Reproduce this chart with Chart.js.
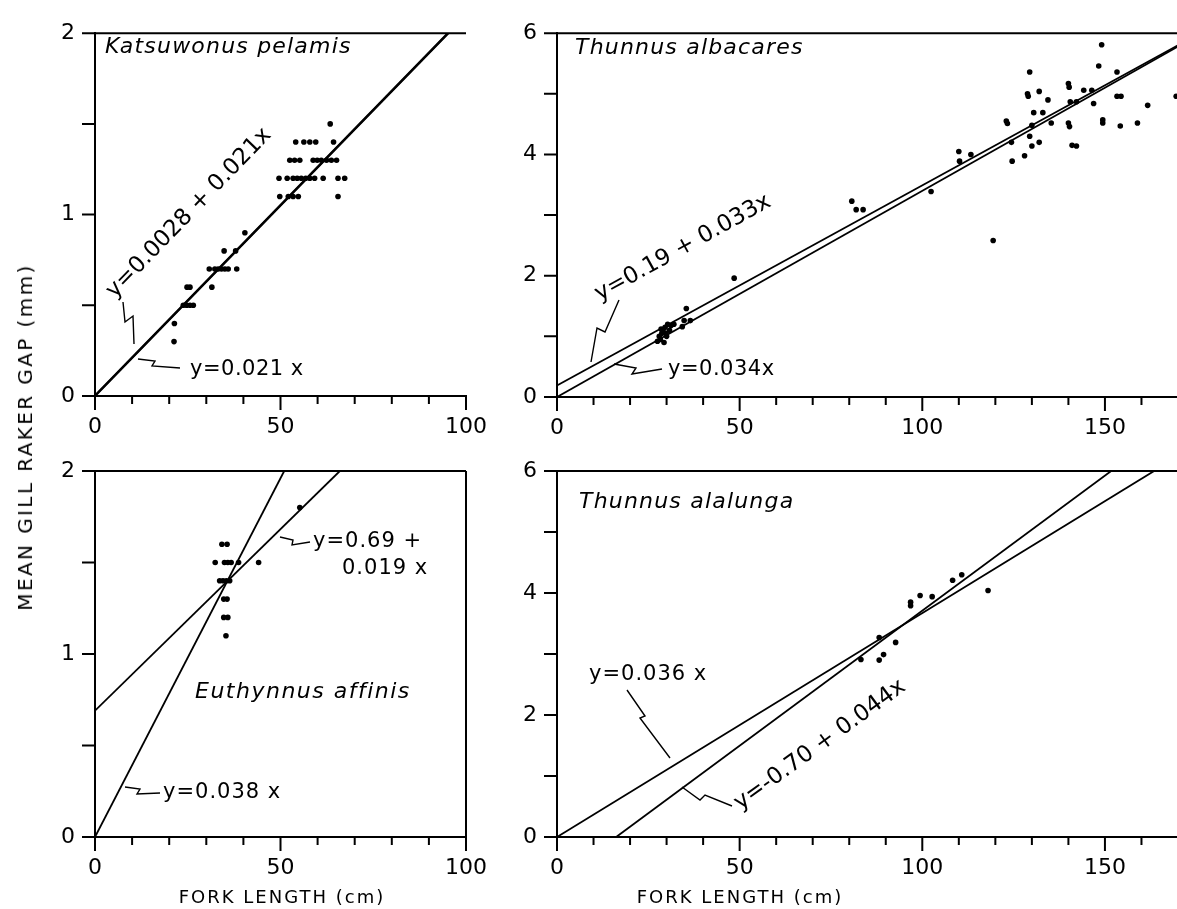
<!DOCTYPE html>
<html>
<head>
<meta charset="utf-8">
<script src="https://cdn.jsdelivr.net/npm/chart.js@4"></script>
<style>
  html, body { margin: 0; padding: 0; background: #fff; overflow: hidden; }
  #page { position: relative; width: 1177px; height: 909px; overflow: hidden; }
  canvas { position: absolute; left: 0; top: 0; }
  .titulo { position: absolute; font-family: "DejaVu Sans", sans-serif; color: #000; white-space: nowrap; }
</style>
</head>
<body>
<div id="page">
  <canvas id="kp" width="1200" height="909"></canvas>
  <canvas id="yf" width="1200" height="909"></canvas>
  <canvas id="ea" width="1200" height="909"></canvas>
  <canvas id="ta" width="1200" height="909"></canvas>
  <div class="titulo" style="left:25px; top:437px; font-size:20px; letter-spacing:2.4px; transform:translate(-50%,-50%) rotate(-90deg);">MEAN GILL RAKER GAP (mm)</div>
  <div class="titulo" style="left:282px; top:896px; font-size:18px; letter-spacing:2px; transform:translate(-50%,-50%);">FORK LENGTH (cm)</div>
  <div class="titulo" style="left:740px; top:896px; font-size:18px; letter-spacing:2px; transform:translate(-50%,-50%);">FORK LENGTH (cm)</div>
</div>
<script>
// Katsuwonus pelamis (top left)
const kpLen = [21.3, 21.4, 23.8, 24.7, 25.6, 26.5, 24.8, 25.6, 31.5,
  30.8, 32.3, 33.2, 34.1, 35.0, 35.9, 38.2, 34.8, 37.9, 40.4,
  49.8, 52.1, 53.4, 54.8, 65.5,
  49.6, 51.8, 53.4, 54.5, 55.6, 56.8, 57.9, 59.2, 61.5, 65.5, 67.3,
  52.5, 53.8, 55.2, 58.8, 59.9, 61.0, 62.4, 63.7, 65.1,
  54.1, 56.3, 57.9, 59.5, 64.3, 63.4];
const kpGap = [0.3, 0.4, 0.5, 0.5, 0.5, 0.5, 0.6, 0.6, 0.6,
  0.7, 0.7, 0.7, 0.7, 0.7, 0.7, 0.7, 0.8, 0.8, 0.9,
  1.1, 1.1, 1.1, 1.1, 1.1,
  1.2, 1.2, 1.2, 1.2, 1.2, 1.2, 1.2, 1.2, 1.2, 1.2, 1.2,
  1.3, 1.3, 1.3, 1.3, 1.3, 1.3, 1.3, 1.3, 1.3,
  1.4, 1.4, 1.4, 1.4, 1.4, 1.5];
const kpFitALen = [0, 100];
const kpFitAGap = [0.0028, 2.1028];
const kpFitBLen = [0, 100];
const kpFitBGap = [0, 2.1];

// Thunnus albacares (top right)
const yfLen = [27.5, 28, 28.3, 28.7, 29, 29.3, 29.6, 30, 30.3, 30.8, 31.2, 32, 28.5, 29.8,
  34.3, 34.8, 35.4, 36.5, 48.5, 80.7, 81.9, 83.8, 102.4, 110, 110.2, 113.3, 119.4,
  123, 123.3, 124.4, 124.6,
  128, 129.4, 128.8, 129, 132, 134.4, 130.5, 133, 130, 129.4, 132, 130, 135.3,
  140, 140.2, 140.5, 142.2, 140, 140.3, 141, 142.2, 144.2, 146.4, 146.9,
  148.3, 149.1, 149.4, 149.4, 153.3, 153.3, 154.4, 154.2, 158.9, 161.7, 169.5];
const yfGap = [0.92, 1.0, 0.95, 1.05, 1.1, 0.9, 1.15, 1.0, 1.2, 1.1, 1.18, 1.2, 1.12, 1.05,
  1.16, 1.26, 1.46, 1.26, 1.96, 3.23, 3.09, 3.09, 3.39, 4.05, 3.89, 4.0, 2.58,
  4.55, 4.51, 4.2, 3.89,
  3.98, 5.36, 5.0, 4.96, 5.04, 4.9, 4.69, 4.69, 4.48, 4.3, 4.2, 4.14, 4.52,
  5.17, 5.11, 4.87, 4.87, 4.52, 4.46, 4.15, 4.14, 5.06, 5.06, 4.84,
  5.46, 5.81, 4.57, 4.52, 5.36, 4.96, 4.96, 4.47, 4.52, 4.81, 4.96];
const yfFitALen = [0, 170];
const yfFitAGap = [0.19, 5.80];
const yfFitBLen = [0, 170];
const yfFitBGap = [0, 5.78];

// Euthynnus affinis (bottom left)
const eaLen = [34.2, 35.6, 32.4, 34.9, 35.8, 36.7, 38.7, 44.1, 33.6, 34.5, 35.4, 36.3,
  34.7, 35.6, 34.7, 35.8, 35.3, 55.2];
const eaGap = [1.6, 1.6, 1.5, 1.5, 1.5, 1.5, 1.5, 1.5, 1.4, 1.4, 1.4, 1.4,
  1.3, 1.3, 1.2, 1.2, 1.1, 1.8];
const eaFitALen = [0, 66];
const eaFitAGap = [0.69, 2.0];
const eaFitBLen = [0, 51];
const eaFitBGap = [0, 2.0];

// Thunnus alalunga (bottom right)
const taLen = [110.8, 108.3, 99.4, 102.7, 96.8, 96.8, 118, 88.2, 92.7, 89.4, 88.2, 83.2];
const taGap = [4.30, 4.21, 3.96, 3.94, 3.85, 3.79, 4.04, 3.27, 3.19, 2.99, 2.9, 2.91];
const taFitALen = [0, 170];
const taFitAGap = [0, 6.24];
const taFitBLen = [16.2, 170];
const taFitBGap = [0, 6.81];

const fonte = '"DejaVu Sans", sans-serif';

function pares(xs, ys) {
  return xs.map((x, i) => ({ x: x, y: ys[i] }));
}

function decoracao(textos, guias, bordaDireita) {
  return {
    id: "decoracao",
    afterDatasetsDraw(chart) {
      const ctx = chart.ctx;
      const a = chart.chartArea;
      const sx = chart.scales.x;
      const sy = chart.scales.y;
      ctx.save();
      ctx.strokeStyle = "#000";
      ctx.fillStyle = "#000";

      // moldura
      ctx.lineWidth = 2;
      ctx.beginPath();
      ctx.moveTo(a.left, a.top);
      ctx.lineTo(a.right, a.top);
      if (bordaDireita) {
        ctx.moveTo(a.right, a.top);
        ctx.lineTo(a.right, a.bottom);
      }
      ctx.stroke();

      // marcas dos eixos
      ctx.beginPath();
      sx.ticks.forEach(t => {
        const px = sx.getPixelForValue(t.value);
        const len = t.value % 50 === 0 ? 14 : 8;
        ctx.moveTo(px, a.bottom);
        ctx.lineTo(px, a.bottom + len);
      });
      sy.ticks.forEach(t => {
        const py = sy.getPixelForValue(t.value);
        ctx.moveTo(a.left - 13, py);
        ctx.lineTo(a.left, py);
      });
      ctx.stroke();

      // linhas de chamada
      ctx.lineWidth = 1.4;
      guias.forEach(g => {
        ctx.beginPath();
        g.forEach((p, i) => i === 0 ? ctx.moveTo(p[0], p[1]) : ctx.lineTo(p[0], p[1]));
        ctx.stroke();
      });

      // textos
      textos.forEach(t => {
        ctx.save();
        ctx.font = (t.italic ? "italic " : "") + t.size + "px " + fonte;
        ctx.letterSpacing = (t.spacing || 0) + "px";
        ctx.textAlign = t.align || "left";
        ctx.textBaseline = "middle";
        ctx.translate(t.x, t.y);
        ctx.rotate((t.angle || 0) * Math.PI / 180);
        ctx.fillText(t.text, 0, 0);
        ctx.restore();
      });
      ctx.restore();
    }
  };
}

function criarPainel(id, cfg) {
  const ctx = document.getElementById(id).getContext("2d");
  const linha = (xs, ys, w) => ({
    data: pares(xs, ys),
    showLine: true,
    borderColor: "#000",
    borderWidth: w,
    pointRadius: 0
  });

  new Chart(ctx, {
    type: "scatter",
    data: {
      datasets: [
        {
          data: pares(cfg.len, cfg.gap),
          backgroundColor: "#000",
          borderWidth: 0,
          pointRadius: 2.8
        },
        linha(cfg.fitA[0], cfg.fitA[1], cfg.lineWidth),
        linha(cfg.fitB[0], cfg.fitB[1], cfg.lineWidth)
      ]
    },
    options: {
      responsive: false,
      animation: false,
      events: [],
      layout: { padding: cfg.padding },
      plugins: {
        legend: { display: false },
        tooltip: { enabled: false }
      },
      scales: {
        x: {
          type: "linear",
          min: 0,
          max: cfg.xMax,
          afterFit: s => { s.height = 40; },
          grid: { display: false, drawTicks: false, tickLength: 0 },
          border: { display: true, color: "#000", width: 2 },
          ticks: {
            stepSize: 10,
            autoSkip: false,
            maxRotation: 0,
            padding: 18,
            color: "#000",
            font: { family: fonte, size: 22 },
            callback: v => (v % 50 === 0 ? v : "")
          }
        },
        y: {
          type: "linear",
          min: 0,
          max: cfg.yMax,
          afterFit: s => { s.width = 40; },
          grid: { display: false, drawTicks: false, tickLength: 0 },
          border: { display: true, color: "#000", width: 2 },
          ticks: {
            stepSize: cfg.yStep,
            autoSkip: false,
            padding: 20,
            color: "#000",
            font: { family: fonte, size: 22 },
            callback: v => (v % cfg.yLabelStep === 0 ? v : "")
          }
        }
      }
    },
    plugins: [decoracao(cfg.textos, cfg.guias, cfg.bordaDireita)]
  });
}

criarPainel("kp", {
  len: kpLen, gap: kpGap,
  fitA: [kpFitALen, kpFitAGap], fitB: [kpFitBLen, kpFitBGap],
  lineWidth: 2.2,
  xMax: 100, yMax: 2, yStep: 0.5, yLabelStep: 1,
  padding: { left: 55, top: 22, right: 734, bottom: 473 },
  bordaDireita: false,
  textos: [
    { text: "Katsuwonus pelamis", x: 105, y: 47, size: 22, italic: true, spacing: 1.2 },
    { text: "y=0.0028 + 0.021x", x: 189, y: 213, size: 23, angle: -46, align: "center" },
    { text: "y=0.021 x", x: 190, y: 370, size: 21, spacing: 0.5 }
  ],
  guias: [
    [[123, 302], [125, 322], [133, 316], [134, 344]],
    [[138, 359], [155, 361], [152, 366], [180, 368]]
  ]
});

criarPainel("yf", {
  len: yfLen, gap: yfGap,
  fitA: [yfFitALen, yfFitAGap], fitB: [yfFitBLen, yfFitBGap],
  lineWidth: 1.8,
  xMax: 170, yMax: 6, yStep: 1, yLabelStep: 2,
  padding: { left: 517, top: 24, right: 22, bottom: 472 },
  bordaDireita: false,
  textos: [
    { text: "Thunnus albacares", x: 575, y: 48, size: 22, italic: true, spacing: 1.2 },
    { text: "y=0.19 + 0.033x", x: 683, y: 248, size: 23, angle: -29, align: "center" },
    { text: "y=0.034x", x: 668, y: 370, size: 21, spacing: 0.5 }
  ],
  guias: [
    [[619, 300], [605, 332], [597, 328], [591, 362]],
    [[614, 364], [636, 368], [632, 374], [662, 369]]
  ]
});

criarPainel("ea", {
  len: eaLen, gap: eaGap,
  fitA: [eaFitALen, eaFitAGap], fitB: [eaFitBLen, eaFitBGap],
  lineWidth: 1.8,
  xMax: 100, yMax: 2, yStep: 0.5, yLabelStep: 1,
  padding: { left: 55, top: 471, right: 734, bottom: 32 },
  bordaDireita: true,
  textos: [
    { text: "Euthynnus affinis", x: 195, y: 692, size: 22, italic: true, spacing: 1.5 },
    { text: "y=0.69 +", x: 313, y: 542, size: 21, spacing: 1 },
    { text: "0.019 x", x: 342, y: 569, size: 21, spacing: 1 },
    { text: "y=0.038 x", x: 163, y: 793, size: 21, spacing: 1 }
  ],
  guias: [
    [[280, 537], [293, 540], [292, 545], [310, 542]],
    [[125, 787], [140, 789], [137, 794], [160, 793]]
  ]
});

criarPainel("ta", {
  len: taLen, gap: taGap,
  fitA: [taFitALen, taFitAGap], fitB: [taFitBLen, taFitBGap],
  lineWidth: 1.8,
  xMax: 170, yMax: 6, yStep: 1, yLabelStep: 2,
  padding: { left: 517, top: 471, right: 22, bottom: 32 },
  bordaDireita: true,
  textos: [
    { text: "Thunnus alalunga", x: 579, y: 502, size: 22, italic: true, spacing: 1.2 },
    { text: "y=0.036 x", x: 589, y: 675, size: 21, spacing: 1 },
    { text: "y=-0.70 + 0.044x", x: 820, y: 745, size: 23, angle: -36, align: "center" }
  ],
  guias: [
    [[627, 690], [645, 716], [640, 718], [670, 758]],
    [[682, 787], [700, 800], [705, 795], [732, 806]]
  ]
});
</script>
</body>
</html>
